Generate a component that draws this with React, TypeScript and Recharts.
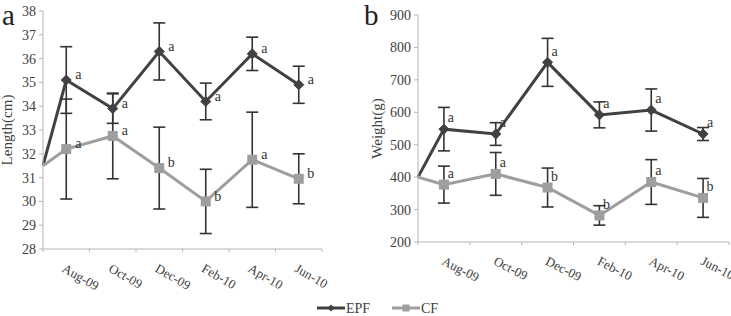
import React from 'react';
import { LineChart, Line, XAxis, YAxis, ErrorBar, LabelList, Label } from 'recharts';

// Sampling months (shared by both panels)
const MONTHS = ['Aug-09', 'Oct-09', 'Dec-09', 'Feb-10', 'Apr-10', 'Jun-10'];

// Panel a: body length (cm)
const LENGTH_START = 31.5;
const LENGTH_TICKS = [28, 29, 30, 31, 32, 33, 34, 35, 36, 37, 38];
const LENGTH_EPF = [35.1, 33.9, 36.3, 34.2, 36.2, 34.9];
const LENGTH_EPF_ERR = [1.4, 0.62, 1.2, 0.77, 0.7, 0.78];
const LENGTH_CF = [32.2, 32.75, 31.4, 30.0, 31.75, 30.95];
const LENGTH_CF_ERR = [2.1, 1.8, 1.72, 1.35, 2.0, 1.05];
const LENGTH_EPF_SIG = ['a', 'a', 'a', 'a', 'a', 'a'];
const LENGTH_CF_SIG = ['a', 'a', 'b', 'b', 'a', 'b'];

// Panel b: body weight (g)
const WEIGHT_START = 400;
const WEIGHT_TICKS = [200, 300, 400, 500, 600, 700, 800, 900];
const WEIGHT_EPF = [548, 533, 754, 592, 607, 533];
const WEIGHT_EPF_ERR = [67, 35, 74, 40, 65, 20];
const WEIGHT_CF = [377, 410, 368, 282, 385, 336];
const WEIGHT_CF_ERR = [57, 66, 60, 30, 69, 60];
const WEIGHT_EPF_SIG = ['a', 'a', 'a', 'a', 'a', 'a'];
const WEIGHT_CF_SIG = ['a', 'a', 'b', 'b', 'a', 'b'];

const SERIF = '"Liberation Serif", "Times New Roman", Times, serif';
const AXIS = '#b5b5b5';
const TEXT = '#404040';
const EPF_COLOR = '#414141';
const CF_COLOR = '#9e9e9e';
const BAR_COLOR = '#333333';

// Category boundaries sit on whole numbers, month labels on the halves
const X_TICKS = Array.from({ length: MONTHS.length * 2 + 1 }, (_, i) => i / 2);

function buildRows(
  start: number,
  epf: number[], epfErr: number[],
  cf: number[], cfErr: number[],
  epfSig: string[], cfSig: string[],
) {
  return [
    { x: 0, epf: start, cf: start, epfErr: null, cfErr: null, epfSig: '', cfSig: '' },
    ...MONTHS.map((_, i) => ({
      x: i + 0.5,
      epf: epf[i], epfErr: epfErr[i],
      cf: cf[i], cfErr: cfErr[i],
      epfSig: epfSig[i], cfSig: cfSig[i],
    })),
  ];
}

const lengthRows = buildRows(LENGTH_START, LENGTH_EPF, LENGTH_EPF_ERR, LENGTH_CF, LENGTH_CF_ERR, LENGTH_EPF_SIG, LENGTH_CF_SIG);
const weightRows = buildRows(WEIGHT_START, WEIGHT_EPF, WEIGHT_EPF_ERR, WEIGHT_CF, WEIGHT_CF_ERR, WEIGHT_EPF_SIG, WEIGHT_CF_SIG);

const makeMonthTick = (angle: number, dx: number, dy: number) => (props: any) => {
  const { x, y, payload } = props;
  const v = payload.value;
  if (Number.isInteger(v)) {
    return <line x1={x} x2={x} y1={y} y2={y + 3} stroke={AXIS} strokeWidth={1} />;
  }
  const tx = x + dx;
  const ty = y + dy;
  return (
    <text
      x={tx}
      y={ty}
      transform={`rotate(${angle} ${tx} ${ty})`}
      textAnchor="start"
      fontFamily={SERIF}
      fontSize={13}
      fill={TEXT}
    >
      {MONTHS[Math.floor(v)]}
    </text>
  );
};

const Diamond = (props: any) => {
  const { cx, cy, index } = props;
  if (index === 0 || cx == null) return <g key={`d${index}`} />;
  const r = 5;
  return (
    <polygon
      key={`d${index}`}
      points={`${cx},${cy - r} ${cx + r},${cy} ${cx},${cy + r} ${cx - r},${cy}`}
      fill={EPF_COLOR}
      stroke={EPF_COLOR}
    />
  );
};

const Square = (props: any) => {
  const { cx, cy, index } = props;
  if (index === 0 || cx == null) return <g key={`s${index}`} />;
  const h = 5;
  return <rect key={`s${index}`} x={cx - h} y={cy - h} width={h * 2} height={h * 2} fill={CF_COLOR} />;
};

const makeSigLabel = (dx: number, dy: number) => (props: any) => {
  const { x, y, value } = props;
  if (!value) return null;
  return (
    <text x={x + dx} y={y + dy} dominantBaseline="middle" textAnchor="middle" fontFamily={SERIF} fontSize={14} fill={BAR_COLOR}>
      {value}
    </text>
  );
};

const makeAxisTitle = (text: string, offset: number) => (props: any) => {
  const { viewBox } = props;
  const x = viewBox.x + offset;
  const y = viewBox.y + viewBox.height / 2;
  return (
    <text x={x} y={y} transform={`rotate(-90 ${x} ${y})`} textAnchor="middle" fontFamily={SERIF} fontSize={15} fill={TEXT}>
      {text}
    </text>
  );
};

type PanelProps = {
  rows: any[];
  width: number;
  height: number;
  margin: { top: number; right: number; bottom: number; left: number };
  yWidth: number;
  xHeight: number;
  domain: [number, number];
  ticks: number[];
  title: string;
  titleOffset: number;
  tickAngle: number;
  tickDx: number;
  tickDy: number;
  sigDx: number;
  sigDy: number;
};

function Panel(p: PanelProps) {
  const sig = makeSigLabel(p.sigDx, p.sigDy);
  return (
    <LineChart width={p.width} height={p.height} data={p.rows} margin={p.margin}>
      <XAxis
        dataKey="x"
        type="number"
        domain={[0, MONTHS.length]}
        ticks={X_TICKS}
        interval={0}
        tickLine={false}
        tickSize={0}
        tickMargin={0}
        height={p.xHeight}
        stroke={AXIS}
        axisLine={{ stroke: AXIS }}
        tick={makeMonthTick(p.tickAngle, p.tickDx, p.tickDy)}
      />
      <YAxis
        type="number"
        domain={p.domain}
        ticks={p.ticks}
        interval={0}
        width={p.yWidth}
        tickSize={4}
        tickMargin={3}
        axisLine={{ stroke: AXIS }}
        tickLine={{ stroke: AXIS }}
        tick={{ fontFamily: SERIF, fontSize: 14, fill: TEXT }}
      >
        <Label content={makeAxisTitle(p.title, p.titleOffset)} />
      </YAxis>
      <Line
        dataKey="epf"
        stroke={EPF_COLOR}
        strokeWidth={3}
        isAnimationActive={false}
        dot={Diamond}
        activeDot={false}
      >
        <ErrorBar dataKey="epfErr" direction="y" width={6} stroke={BAR_COLOR} strokeWidth={1.6} />
        <LabelList dataKey="epfSig" content={sig} />
      </Line>
      <Line
        dataKey="cf"
        stroke={CF_COLOR}
        strokeWidth={3}
        isAnimationActive={false}
        dot={Square}
        activeDot={false}
      >
        <ErrorBar dataKey="cfErr" direction="y" width={6} stroke={BAR_COLOR} strokeWidth={1.6} />
        <LabelList dataKey="cfSig" content={sig} />
      </Line>
    </LineChart>
  );
}

export default function App() {
  return (
    <div style={{ position: 'absolute', left: 0, top: 0, width: 731, height: 316, background: '#fff', overflow: 'hidden' }}>
      <div style={{ position: 'absolute', left: 0, top: 0 }}>
        <Panel
          rows={lengthRows}
          width={330}
          height={316}
          margin={{ top: 11, right: 8, bottom: 7, left: 0 }}
          yWidth={43}
          xHeight={60}
          domain={[28, 38]}
          ticks={LENGTH_TICKS}
          title="Length(cm)"
          titleOffset={12}
          tickAngle={30}
          tickDx={-5}
          tickDy={22}
          sigDx={12}
          sigDy={-4}
        />
      </div>
      <div style={{ position: 'absolute', left: 365, top: 0 }}>
        <Panel
          rows={weightRows}
          width={366}
          height={316}
          margin={{ top: 15, right: 2, bottom: 14, left: 0 }}
          yWidth={53}
          xHeight={60}
          domain={[200, 900]}
          ticks={WEIGHT_TICKS}
          title="Weight(g)"
          titleOffset={17}
          tickAngle={27}
          tickDx={-3}
          tickDy={22}
          sigDx={7}
          sigDy={-10}
        />
      </div>
      <svg width={731} height={316} style={{ position: 'absolute', left: 0, top: 0, pointerEvents: 'none' }}>
        <text x={2} y={25} fontFamily={SERIF} fontSize={29} fill="#222">a</text>
        <text x={364} y={25} fontFamily={SERIF} fontSize={29} fill="#222">b</text>
        <line x1={317} x2={345} y1={308} y2={308} stroke={EPF_COLOR} strokeWidth={3} />
        <polygon points="331,304.5 334.5,308 331,311.5 327.5,308" fill={EPF_COLOR} />
        <text x={346} y={313} fontFamily={SERIF} fontSize={14} fill={TEXT}>EPF</text>
        <line x1={392} x2={420} y1={308} y2={308} stroke={CF_COLOR} strokeWidth={3} />
        <rect x={402.5} y={304.5} width={7} height={7} fill={CF_COLOR} />
        <text x={421} y={313} fontFamily={SERIF} fontSize={14} fill={TEXT}>CF</text>
      </svg>
    </div>
  );
}
